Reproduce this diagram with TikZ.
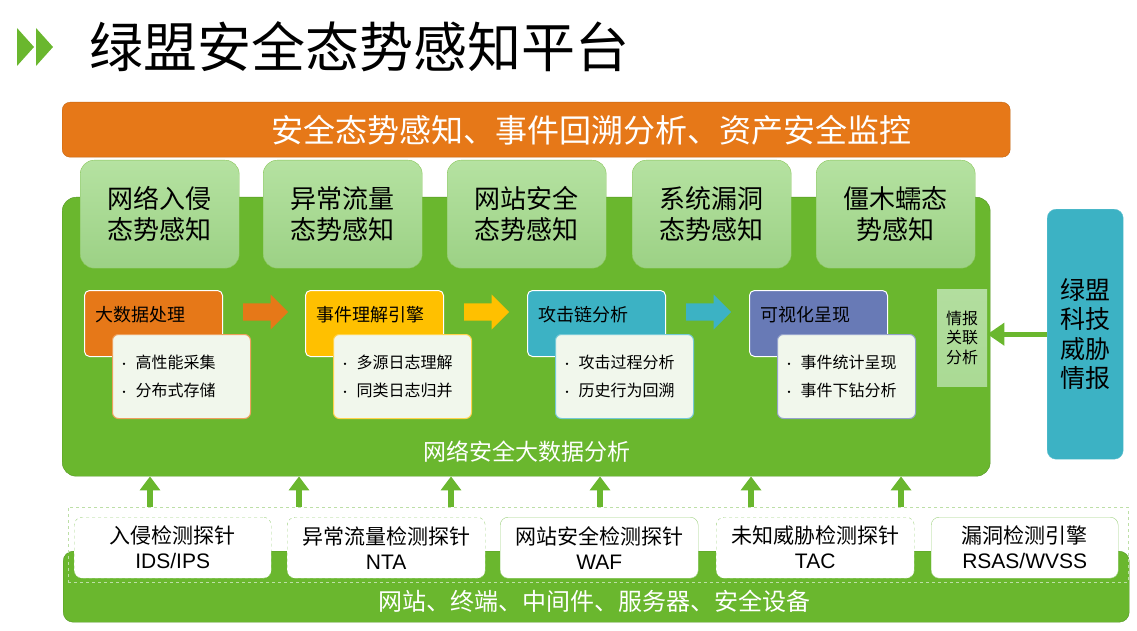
\documentclass[tikz,border=0pt]{standalone}
\usepackage{fontspec}
\setmainfont{Noto Sans CJK SC}
\newfontfamily\latn{Liberation Sans}
\usepackage{tikz}
\usetikzlibrary{shapes.arrows,arrows.meta}
\definecolor{NsGreen}{RGB}{106,183,46}
\definecolor{NsGreenDark}{RGB}{84,150,36}
\definecolor{NsOrange}{RGB}{230,120,24}
\definecolor{NsYellow}{RGB}{255,192,0}
\definecolor{NsTeal}{RGB}{60,178,196}
\definecolor{NsBlue}{RGB}{104,122,182}
\definecolor{NsTabTop}{RGB}{181,226,161}
\definecolor{NsTabBot}{RGB}{156,209,133}
\definecolor{NsPaper}{RGB}{241,247,236}
\definecolor{NsIntel}{RGB}{170,218,148}
\definecolor{NsProbeLine}{RGB}{160,210,130}
\newcommand\fsz[2]{\fontsize{#1}{#2}\selectfont}
\newcommand\dotitem{{\fsz{11}{11}•}\hspace{6pt}}

\tikzset{
  tab/.style={rounded corners=14pt,draw=NsGreen!80,top color=NsTabTop,bottom color=NsTabBot,
    minimum width=159pt,minimum height=108pt,anchor=north west,align=center,font=\fsz{26}{31}},
  head/.style={draw=white,line width=1pt,rounded corners=5pt,minimum width=138pt,
    minimum height=66pt,anchor=north west},
  headtext/.style={anchor=west,font=\fsz{18}{22}},
  detail/.style={fill=NsPaper,line width=1pt,rounded corners=6pt,minimum width=138pt,
    minimum height=84pt,anchor=north west,align=left,text width=126pt,font=\fsz{16}{28}},
  flow/.style={single arrow,draw=none,minimum height=45pt,inner xsep=0pt,inner ysep=8.5pt,
    single arrow head extend=9pt,anchor=west},
  probe/.style={fill=white,draw=NsProbeLine,rounded corners=8pt,minimum height=61pt,
    anchor=north west,align=center,font=\fsz{21}{25}},
  uparrow/.style={draw=NsGreen,line width=6pt,-{Triangle[width=20pt,length=14pt]}},
}

\begin{document}
\begin{tikzpicture}[x=1pt,y=-1pt]
  \useasboundingbox (0,0) rectangle (1137,631);

  % title
  \fill[NsGreen] (17,28) -- (17,66) -- (34,47) -- cycle;
  \fill[NsGreen] (36,28) -- (36,66) -- (53,47) -- cycle;
  \node[anchor=west,font=\fsz{54}{60}] (title) at (86,47) {绿盟安全态势感知平台};

  % top bar
  \node[anchor=north west,fill=NsOrange,draw=NsOrange!85!black,rounded corners=8pt,
        minimum width=948pt,minimum height=55pt] (top) at (62,102) {};
  \node[white,font=\fsz{32}{32}] (toptxt) at (591,130) {安全态势感知、事件回溯分析、资产安全监控};

  % analysis platform
  \node[anchor=north west,fill=NsGreen,draw=NsGreenDark,rounded corners=14pt,
        minimum width=928pt,minimum height=279pt] (main) at (62,197) {};
  \node[tab] (t1) at (80,160)  {网络入侵\\态势感知};
  \node[tab] (t2) at (263,160) {异常流量\\态势感知};
  \node[tab] (t3) at (447,160) {网站安全\\态势感知};
  \node[tab] (t4) at (632,160) {系统漏洞\\态势感知};
  \node[tab] (t5) at (816,160) {僵木蠕态\\势感知};

  \foreach \x/\c/\t/\a/\b [count=\i] in {
      84/NsOrange/大数据处理/高性能采集/分布式存储,
      305/NsYellow/事件理解引擎/多源日志理解/同类日志归并,
      527/NsTeal/攻击链分析/攻击过程分析/历史行为回溯,
      749/NsBlue/可视化呈现/事件统计呈现/事件下钻分析} {
    \node[head,fill=\c] (h\i) at (\x,290) {};
    \node[headtext] (ht\i) at ([xshift=8pt,yshift=-25pt]h\i.north west) {\t};
    \node[detail,draw=\c!70] (d\i) at (\x+28,334) {\dotitem\a\\\dotitem\b};
  }
  \node[flow,fill=NsOrange] (f1) at (243,312) {};
  \node[flow,fill=NsYellow] (f2) at (464,312) {};
  \node[flow,fill=NsTeal]   (f3) at (686,312) {};

  \node[anchor=north west,top color=NsIntel!90!white,bottom color=NsIntel,minimum width=50pt,
        minimum height=97pt,align=center,font=\fsz{16}{19.5},inner sep=0pt] (qb) at (937,289) {情报\\关联\\分析};
  \node[white,font=\fsz{23}{23}] (maintxt) at (527,452) {网络安全大数据分析};

  % threat intelligence
  \node[anchor=north west,fill=NsTeal,draw=NsTeal!80!white,rounded corners=9pt,minimum width=76pt,
        minimum height=250pt,align=center,font=\fsz{25}{29.5}] (ti) at (1047,209) {绿盟\\科技\\威胁\\情报};
  \draw[draw=NsGreen,line width=5pt,-{Triangle[width=22pt,length=17pt]}] (ti.west) -- (ti.west -| qb.east);

  % sensors
  \node[anchor=north west,fill=NsGreen,draw=NsGreenDark,rounded corners=10pt,
        minimum width=1066pt,minimum height=71pt] (base) at (63,551) {};
  \node[white,font=\fsz{24}{24}] (basetxt) at (594,601) {网站、终端、中间件、服务器、安全设备};
  \node[anchor=north west,draw=NsProbeLine!70!white,dashed,thin,minimum width=1060pt,
        minimum height=75pt] (frame) at (68,507) {};
  \node[probe,dashed,minimum width=197pt] (p1) at (74,517)  {入侵检测探针\\{\latn IDS/IPS}};
  \node[probe,dashed,minimum width=198pt] (p2) at (287,517) {异常流量检测探针\\{\latn NTA}};
  \node[probe,minimum width=198pt]        (p3) at (500,517) {网站安全检测探针\\{\latn WAF}};
  \node[probe,dashed,minimum width=198pt] (p4) at (716,517) {未知威胁检测探针\\{\latn TAC}};
  \node[probe,minimum width=187pt]        (p5) at (931,517) {漏洞检测引擎\\{\latn RSAS/WVSS}};

  \foreach \x in {150,299,451,600,751,901}
    \draw[uparrow] (\x,0 |- frame.north) -- (\x,0 |- main.south);
\end{tikzpicture}
\end{document}
